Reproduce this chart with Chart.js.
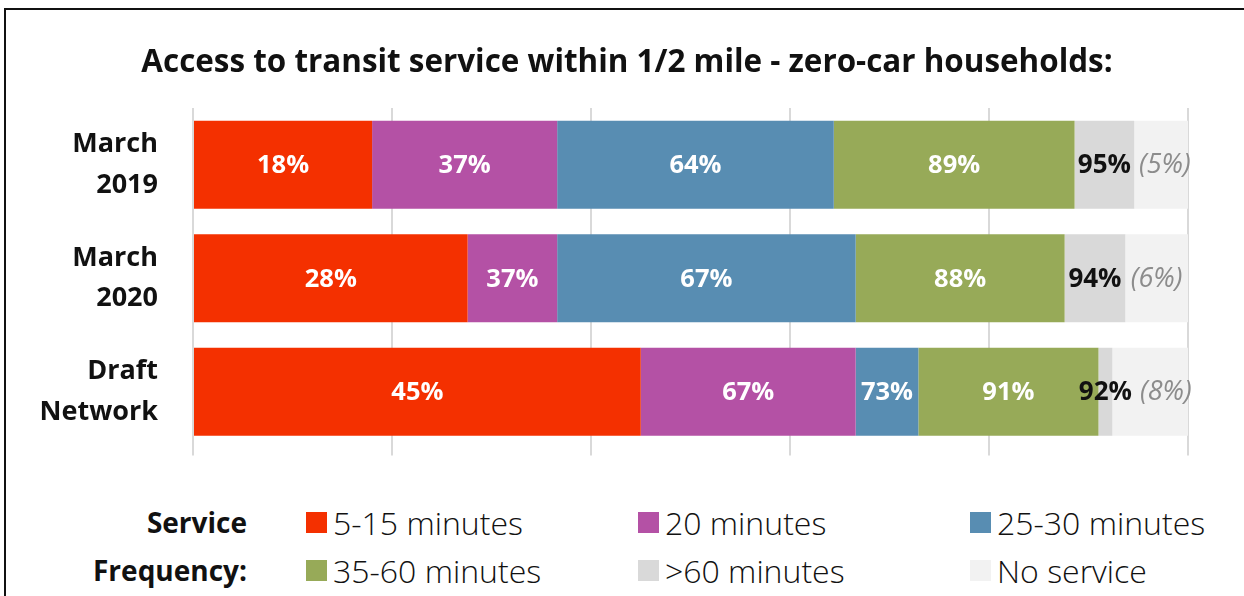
<!DOCTYPE html>
<html>
<head>
<meta charset="utf-8">
<script src="https://cdn.jsdelivr.net/npm/chart.js@4.4.1/dist/chart.umd.min.js"></script>
<style>
  body { margin: 0; background: #fff; font-family: 'Open Sans', sans-serif; }
  #frame { position: absolute; left: 4px; top: 8px; width: 1260px; height: 600px;
           border-left: 2px solid #111; border-top: 2px solid #111; }
  #title { position: absolute; left: 0; top: 38px; width: 1254px; text-align: center;
           font-weight: bold; font-size: 31.4px; line-height: 44px; color: #111; white-space: nowrap; }
  #wrap { position: absolute; left: 0; top: 0; width: 1244px; height: 460px; }
  #legendTitle { position: absolute; left: 0; top: 498px; width: 247px; text-align: right;
                 font-weight: bold; font-size: 28px; line-height: 48px; color: #111; }
  #legend { position: absolute; left: 306px; top: 498px; display: grid;
            grid-template-columns: 332px 332px 300px; grid-auto-rows: 48px; }
  .item { display: flex; align-items: center; font-size: 32px; font-weight: 300; color: #111; }
  .swatch { width: 21px; height: 21px; margin-right: 6px; flex: none; }
</style>
</head>
<body>
<div id="frame"></div>
<div id="wrap"><canvas id="chart"></canvas></div>
<div id="title"></div>
<div id="legendTitle">Service<br>Frequency:</div>
<div id="legend"></div>
<script>
const titleText = 'Access to transit service within 1/2 mile - zero-car households:';
const categories = [['March', '2019'], ['March', '2020'], ['Draft', 'Network']];
const seriesNames = ['5-15 minutes', '20 minutes', '25-30 minutes', '35-60 minutes', '>60 minutes', 'No service'];
const colors = ['#f43000', '#b451a5', '#588db2', '#97aa58', '#d9d9d9', '#f2f2f2'];

// cumulative share of households reached at each frequency band (%)
const upTo15 = [18, 27.6, 45];
const upTo20 = [36.6, 36.6, 66.6];
const upTo30 = [64.4, 66.6, 72.9];
const upTo60 = [88.6, 87.6, 91];
const anyService = [94.6, 93.7, 92.4];

const cumulative = [upTo15, upTo20, upTo30, upTo60, anyService, [100, 100, 100]];
const font = "'Open Sans', sans-serif";

document.getElementById('title').textContent = titleText;

// each stacked segment is the step between two cumulative levels
const datasets = cumulative.map((cum, i) => ({
    label: seriesNames[i],
    data: cum.map((v, j) => i === 0 ? v : +(v - cumulative[i - 1][j]).toFixed(1)),
    backgroundColor: colors[i],
    borderWidth: 0
}));

function labelFor(i, j) {
    if (i === 5) return '(' + Math.round(100 - anyService[j]) + '%)';
    return Math.round(cumulative[i][j]) + '%';
}

const segmentLabels = {
    id: 'segmentLabels',
    afterDatasetsDraw(chart) {
        const ctx = chart.ctx;
        ctx.save();
        ctx.textBaseline = 'middle';
        ctx.textAlign = 'left';
        const prevEnd = [];
        chart.data.datasets.forEach((ds, i) => {
            const meta = chart.getDatasetMeta(i);
            meta.data.forEach((bar, j) => {
                const p = bar.getProps(['x', 'y', 'base'], true);
                if (i === 5) {
                    ctx.font = 'italic 27px ' + font;
                    ctx.fillStyle = '#8c8c8c';
                } else if (i === 4) {
                    ctx.font = 'bold 26px ' + font;
                    ctx.fillStyle = '#111';
                } else {
                    ctx.font = 'bold 25.5px ' + font;
                    ctx.fillStyle = '#fff';
                }
                const text = labelFor(i, j);
                const w = ctx.measureText(text).width;
                let left = (p.x + p.base) / 2 - w / 2;
                // the no-service note steps aside if it would run into the label before it
                if (i === 5 && prevEnd[j] !== undefined) left = Math.max(left, prevEnd[j] + 8);
                ctx.fillText(text, left, p.y + 1);
                prevEnd[j] = left + w;
            });
        });
        ctx.restore();
    }
};

new Chart(document.getElementById('chart'), {
    type: 'bar',
    data: { labels: categories, datasets: datasets },
    options: {
        indexAxis: 'y',
        responsive: true,
        maintainAspectRatio: false,
        animation: false,
        layout: { padding: { left: 0, right: 56, top: 108, bottom: 4.5 } },
        datasets: { bar: { categoryPercentage: 1, barPercentage: 0.775 } },
        plugins: {
            legend: { display: false },
            tooltip: { enabled: false }
        },
        scales: {
            x: {
                stacked: true,
                min: 0,
                max: 100,
                ticks: { display: false, stepSize: 20 },
                grid: { color: '#d9d9d9', lineWidth: 2, drawTicks: true, tickLength: 7 },
                border: { display: false }
            },
            y: {
                stacked: true,
                grid: { display: false, drawTicks: false },
                border: { display: false },
                ticks: { color: '#111', padding: 35, font: { family: font, size: 27, weight: 'bold', lineHeight: 1.5 } },
                afterFit: (scale) => {
                    scale.width = 193;
                    scale.paddingTop = 0;
                    scale.paddingBottom = 0;
                }
            }
        }
    },
    plugins: [segmentLabels]
});

// legend built from the same names and colours
const legend = document.getElementById('legend');
seriesNames.forEach((name, i) => {
    const item = document.createElement('div');
    item.className = 'item';
    item.innerHTML = '<span class="swatch" style="background:' + colors[i] + '"></span>' + name.replace('>', '&gt;');
    legend.appendChild(item);
});
</script>
</body>
</html>
